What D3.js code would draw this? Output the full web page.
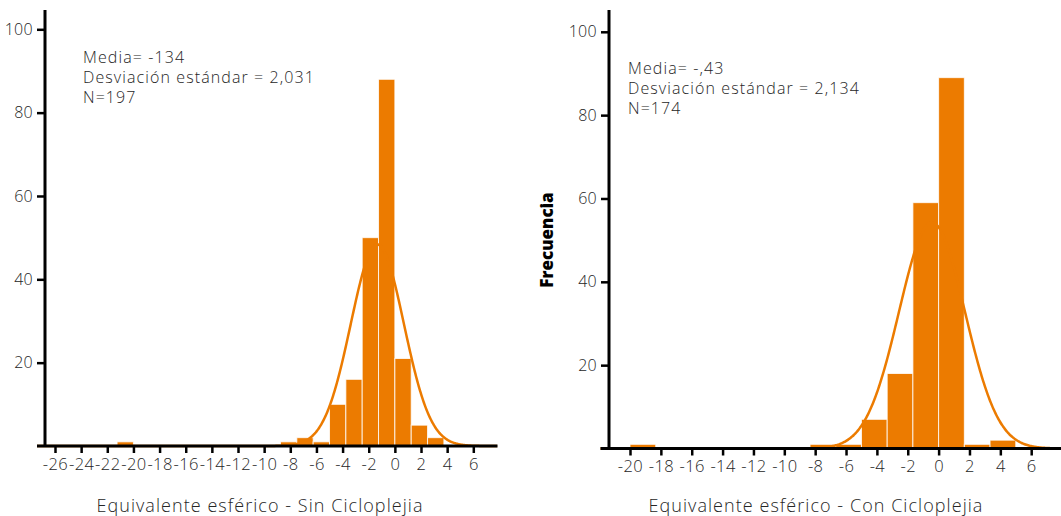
<!DOCTYPE html>
<html>
<head>
<meta charset="utf-8">
<script src="https://cdn.jsdelivr.net/npm/d3@7"></script>
<style>
	body { margin: 0; background: #fff; }
	svg { display: block; }
	text { font-family: "Open Sans", sans-serif; font-weight: 300; fill: #262626; }
</style>
</head>
<body>
<div class="chart"></div>
<script>
// Sin cicloplejia (left panel)
const sinBinLow = [-21.25, -8.75, -7.5, -6.25, -5, -3.75, -2.5, -1.25, 0, 1.25, 2.5];
const sinCounts = [1, 1, 2, 1, 10, 16, 50, 88, 21, 5, 2];
const sinBinWidth = 1.25;
const sinMean = -1.34, sinSd = 2.031, sinN = 197;
const sinStatLines = ["Media= -134", "Desviación estándar = 2,031", "N=197"];
const sinTicks = [-26, -24, -22, -20, -18, -16, -14, -12, -10, -8, -6, -4, -2, 0, 2, 4, 6];
const sinTitle = "Equivalente esférico - Sin Cicloplejia";

// Con cicloplejia (right panel)
const conBinLow = [-20, -8.333, -6.667, -5, -3.333, -1.667, 0, 1.667, 3.333];
const conCounts = [1, 1, 1, 7, 18, 59, 89, 1, 2];
const conBinWidth = 1.667;
const conMean = -0.43, conSd = 2.134, conN = 174;
const conStatLines = ["Media= -,43", "Desviación estándar = 2,134", "N=174"];
const conTicks = [-20, -18, -16, -14, -12, -10, -8, -6, -4, -2, 0, 2, 4, 6];
const conTitle = "Equivalente esférico - Con Cicloplejia";

const yTicks = [20, 40, 60, 80, 100];
const yLabel = "Frecuencia";

const w = 1061,
	h = 516,
	orange = "#ec7b00";

const svg = d3.select(".chart").append("svg").attr("width", w).attr("height", h);

function drawPanel(p) {
	const x = d3.scaleLinear().domain([p.tick0, p.tick1]).range([p.px0, p.px1]);
	const y = d3.scaleLinear().domain([0, 100]).range([p.base, p.top100]);
	const g = svg.append("g");

	const bins = p.low.map((d, i) => ({ x0: d, x1: d + p.bw, n: p.counts[i] }));

	g.selectAll("rect")
		.data(bins)
		.enter()
		.append("rect")
		.attr("x", (d) => x(d.x0))
		.attr("width", (d) => x(d.x1) - x(d.x0))
		.attr("y", (d) => y(d.n))
		.attr("height", (d) => y(0) - y(d.n))
		.attr("fill", orange)
		.attr("stroke", "#fff")
		.attr("stroke-opacity", 0.8)
		.attr("stroke-width", 1);

	// normal curve from mean / sd / N
	const k = (p.n * p.bw) / (p.sd * Math.sqrt(2 * Math.PI));
	const xs = d3.range(x.invert(p.lineStart), x.invert(p.lineEnd), 0.05);
	const line = d3
		.line()
		.x((v) => x(v))
		.y((v) => y(k * Math.exp(-0.5 * Math.pow((v - p.mean) / p.sd, 2))))
		.curve(d3.curveBasis);
	g.append("path")
		.datum(xs)
		.attr("d", line)
		.attr("fill", "none")
		.attr("stroke", orange)
		.attr("stroke-width", 2.5);

	// x axis
	const xAxis = d3.axisBottom(x).tickValues(p.ticks).tickSize(7).tickPadding(5);
	const xa = g.append("g").attr("transform", "translate(0," + p.base + ")").call(xAxis);
	xa.select(".domain").remove();
	xa.selectAll("line").attr("stroke", "#000").attr("stroke-width", 2.5);
	xa.selectAll("text")
		.style("font-size", "16.5px")
		.style("letter-spacing", "0.4px")
		.attr("fill", "#262626")
		.text((d) => String(d));
	g.append("line")
		.attr("x1", p.lineStart)
		.attr("x2", p.lineEnd)
		.attr("y1", p.base)
		.attr("y2", p.base)
		.attr("stroke", "#000")
		.attr("stroke-width", 3);

	// y axis
	const yAxis = d3.axisLeft(y).tickValues(yTicks).tickSize(8).tickPadding(4);
	const ya = g.append("g").attr("transform", "translate(" + p.yx + ",0)").call(yAxis);
	ya.select(".domain").remove();
	ya.selectAll("line").attr("stroke", "#000").attr("stroke-width", 2.5);
	ya.selectAll("text").style("font-size", "16px").style("letter-spacing", "0.3px").attr("fill", "#262626");
	g.append("line")
		.attr("x1", p.yx)
		.attr("x2", p.yx)
		.attr("y1", 10)
		.attr("y2", p.base)
		.attr("stroke", "#000")
		.attr("stroke-width", 3);

	// stats
	g.append("text")
		.attr("x", p.statX)
		.attr("y", p.statY)
		.style("font-size", "16px")
		.style("letter-spacing", "1.1px")
		.selectAll("tspan")
		.data(p.stats)
		.enter()
		.append("tspan")
		.attr("x", p.statX)
		.attr("dy", (d, i) => (i ? 20 : 0))
		.text((d) => d);

	g.append("text")
		.attr("x", p.titleX)
		.attr("y", 512)
		.attr("text-anchor", "middle")
		.style("font-size", "18px")
		.style("letter-spacing", "1.05px")
		.text(p.title);
}

drawPanel({
	low: sinBinLow, counts: sinCounts, bw: sinBinWidth,
	mean: sinMean, sd: sinSd, n: sinN, stats: sinStatLines, ticks: sinTicks, title: sinTitle,
	tick0: -26, tick1: 6, px0: 55, px1: 473.3,
	base: 446, top100: 29.3, yx: 45, lineStart: 37, lineEnd: 497.5,
	statX: 83, statY: 63, titleX: 260
});

drawPanel({
	low: conBinLow, counts: conCounts, bw: conBinWidth,
	mean: conMean, sd: conSd, n: conN, stats: conStatLines, ticks: conTicks, title: conTitle,
	tick0: -20, tick1: 6, px0: 630, px1: 1031.2,
	base: 448.5, top100: 31.8, yx: 609, lineStart: 600.5, lineEnd: 1061,
	statX: 628, statY: 74, titleX: 816
});

svg.append("text")
	.attr("transform", "translate(553,240) rotate(-90)")
	.attr("text-anchor", "middle")
	.style("font-size", "17px")
	.style("font-weight", 800)
	.style("fill", "#000")
	.text(yLabel);
</script>
</body>
</html>
